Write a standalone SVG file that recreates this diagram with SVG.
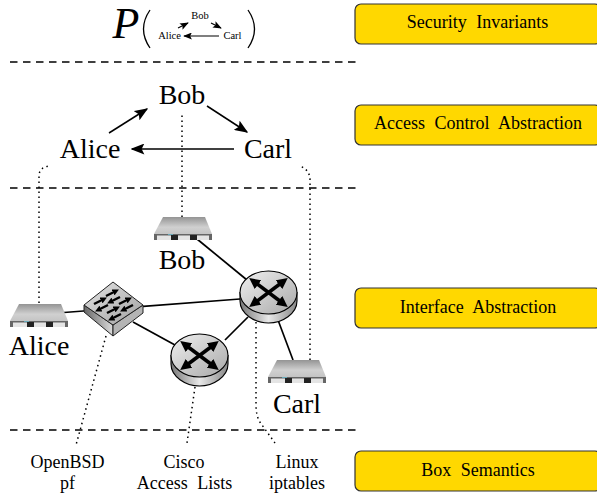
<svg xmlns="http://www.w3.org/2000/svg" width="597" height="497" viewBox="0 0 597 497">
<style>
text{font-family:"Liberation Serif","Times New Roman",serif;fill:#000;text-anchor:middle}
.big{font-size:28px}
.lab{font-size:18px;word-spacing:5px}
.tiny{font-size:10.500px}
.band{fill:#ffd800;stroke:#333;stroke-width:1.200}
.dash{stroke:#000;stroke-width:1.500;stroke-dasharray:7.500 5.500;fill:none}
.dot{stroke:#000;stroke-width:1.500;stroke-dasharray:1.500 3.500;fill:none}
.link{stroke:#000;stroke-width:1.700;fill:none}
.arr{stroke:#000;stroke-width:1.500;fill:none;marker-end:url(#ah)}
.arrs{stroke:#000;stroke-width:1.200;fill:none;marker-end:url(#ahs)}
.x{stroke:#000;stroke-width:3.600;fill:none;marker-start:url(#xh);marker-end:url(#xh)}
.s{stroke:#000;stroke-width:2.400;fill:none;marker-end:url(#sh)}
</style>
<defs>
<marker id="ah" viewBox="0 0 10 8" refX="9" refY="4" markerWidth="14" markerHeight="11" markerUnits="userSpaceOnUse" orient="auto"><path d="M0 0L10 4L0 8L2 4Z" fill="#000"/></marker>
<marker id="ahs" viewBox="0 0 10 8" refX="9" refY="4" markerWidth="9" markerHeight="7" markerUnits="userSpaceOnUse" orient="auto"><path d="M0 0L10 4L0 8L2 4Z" fill="#000"/></marker>
<marker id="xh" viewBox="0 0 10 10" refX="4" refY="5" markerWidth="11" markerHeight="11" markerUnits="userSpaceOnUse" orient="auto-start-reverse"><path d="M0 0L10 5L0 10Z" fill="#000"/></marker>
<marker id="sh" viewBox="0 0 10 10" refX="5" refY="5" markerWidth="6.500" markerHeight="6.500" markerUnits="userSpaceOnUse" orient="auto"><path d="M0 0L10 5L0 10Z" fill="#000"/></marker>
<linearGradient id="srv" x1="0" y1="0" x2="0" y2="1"><stop offset="0" stop-color="#949494"/><stop offset="0.6" stop-color="#d0d0d0"/><stop offset="1" stop-color="#c4c4c4"/></linearGradient>
<linearGradient id="rt" x1="0" y1="0" x2="1" y2="1"><stop offset="0" stop-color="#f0f0f0"/><stop offset="1" stop-color="#a8a8a8"/></linearGradient>
<linearGradient id="rs" x1="0" y1="0" x2="1" y2="0"><stop offset="0" stop-color="#777"/><stop offset="0.5" stop-color="#e8e8e8"/><stop offset="1" stop-color="#888"/></linearGradient>
<linearGradient id="sw" x1="0" y1="0" x2="1" y2="1"><stop offset="0" stop-color="#e4e4e4"/><stop offset="1" stop-color="#a0a0a0"/></linearGradient>
<linearGradient id="swl" x1="0" y1="0" x2="1" y2="0"><stop offset="0" stop-color="#666"/><stop offset="1" stop-color="#ddd"/></linearGradient>
<g id="server">
<path d="M9 0H51L58 17H0Z" fill="url(#srv)"/>
<rect x="0" y="17" width="58" height="6" fill="#666"/>
<rect x="3" y="18.500" width="52" height="4.500" fill="#e4e4e4"/>
<rect x="17" y="18" width="7" height="5" fill="#222"/>
<rect x="36" y="18" width="7" height="5" fill="#222"/>
<rect x="14" y="17" width="5" height="1" fill="#6ab"/>
</g>
<g id="router">
<path d="M-28.500 0V8.500C-28.500 21 -14 30.500 0 30.500S28.500 21 28.500 8.500V0Z" fill="url(#rs)" stroke="#000" stroke-width="1.100"/>
<ellipse rx="28.500" ry="21.500" fill="url(#rt)" stroke="#000" stroke-width="1.100"/>
<path class="x" d="M-14 -10.500L14 10.500"/>
<path class="x" d="M-14 10.500L14 -10.500"/>
</g>
<g id="swarrows">
<path class="s" d="M-7 0L3 -5"/>
<path class="s" d="M7 1L-3 6"/>
</g>
</defs>

<g id="separators">
<path class="dash" d="M10 62H357"/>
<path class="dash" d="M10 188H357"/>
<path class="dash" d="M10 430H357"/>
</g>

<g id="connectors">
<path class="link" d="M64 312.500L90 310.500"/>
<path class="link" d="M140 306.700L240 299"/>
<path class="link" d="M133 322L175 345"/>
<path class="link" d="M197 239L247 280"/>
<path class="link" d="M225 340L248 317"/>
<path class="link" d="M278 320L293 360"/>
<path class="dot" d="M39 303V176Q39 167 50 166"/>
<path class="dot" d="M182 217V112"/>
<path class="dot" d="M310 360V180Q310 170 300 166"/>
<path class="dot" d="M106 336L76 445"/>
<path class="dot" d="M195 387L187 443"/>
<path class="dot" d="M256 322V405Q256 418 262 425L275 443"/>
<path class="arr" d="M109 133L147 109"/>
<path class="arr" d="M207 106L247 132"/>
<path class="arr" d="M234 149H132"/>
<path class="arrs" d="M178 28L188 23"/>
<path class="arrs" d="M211 23L221 28"/>
<path class="arrs" d="M219 36H184"/>
</g>

<g id="formula">
<text x="126" y="38" font-size="44" font-style="italic">P</text>
<path d="M150 10Q137 29 150 48" fill="none" stroke="#000" stroke-width="1.300"/>
<path d="M248 10Q261 29 248 48" fill="none" stroke="#000" stroke-width="1.300"/>
<text class="tiny" x="200" y="19">Bob</text>
<text class="tiny" x="169.500" y="39">Alice</text>
<text class="tiny" x="232.500" y="39">Carl</text>
</g>

<g id="acl-bob"><text class="big" x="182" y="104">Bob</text></g>
<g id="acl-alice"><text class="big" x="90" y="158">Alice</text></g>
<g id="acl-carl"><text class="big" x="268" y="158">Carl</text></g>

<g id="server-bob"><use href="#server" x="154" y="217"/><text class="big" x="182" y="269">Bob</text></g>
<g id="server-alice"><use href="#server" x="10" y="304"/><text class="big" x="39" y="355">Alice</text></g>
<g id="server-carl"><use href="#server" x="268" y="360"/><text class="big" x="297" y="413">Carl</text></g>

<g id="switch">
<path d="M84 305V312L113 336V325Z" fill="url(#swl)" stroke="#222" stroke-width="1"/>
<path d="M113 325V336L143 313V305Z" fill="#b4b4b4" stroke="#222" stroke-width="1"/>
<path d="M113 282L143 305L113 325L84 305Z" fill="url(#sw)" stroke="#222" stroke-width="1"/>
<use href="#swarrows" x="113" y="296"/>
<use href="#swarrows" x="101" y="304"/>
<use href="#swarrows" x="126" y="304"/>
<use href="#swarrows" x="114" y="313"/>
</g>

<g id="router-top"><use href="#router" x="268.500" y="292.500"/></g>
<g id="router-bottom"><use href="#router" x="199.500" y="355.500"/></g>

<g id="lbl-openbsd"><text class="lab" x="67.500" y="468">OpenBSD</text><text class="lab" x="67.500" y="489">pf</text></g>
<g id="lbl-cisco"><text class="lab" x="184" y="468">Cisco</text><text class="lab" x="184.500" y="489">Access Lists</text></g>
<g id="lbl-linux"><text class="lab" x="297" y="468">Linux</text><text class="lab" x="297" y="489">iptables</text></g>

<g id="band-security"><rect class="band" x="355" y="4" width="246" height="40" rx="6"/><text class="lab" x="477.500" y="28">Security Invariants</text></g>
<g id="band-access"><rect class="band" x="355" y="105" width="246" height="40" rx="6"/><text class="lab" x="478" y="129">Access Control Abstraction</text></g>
<g id="band-interface"><rect class="band" x="355" y="288" width="246" height="40" rx="6"/><text class="lab" x="478" y="313">Interface Abstraction</text></g>
<g id="band-box"><rect class="band" x="355" y="451" width="246" height="40" rx="6"/><text class="lab" x="478" y="476">Box Semantics</text></g>
</svg>
